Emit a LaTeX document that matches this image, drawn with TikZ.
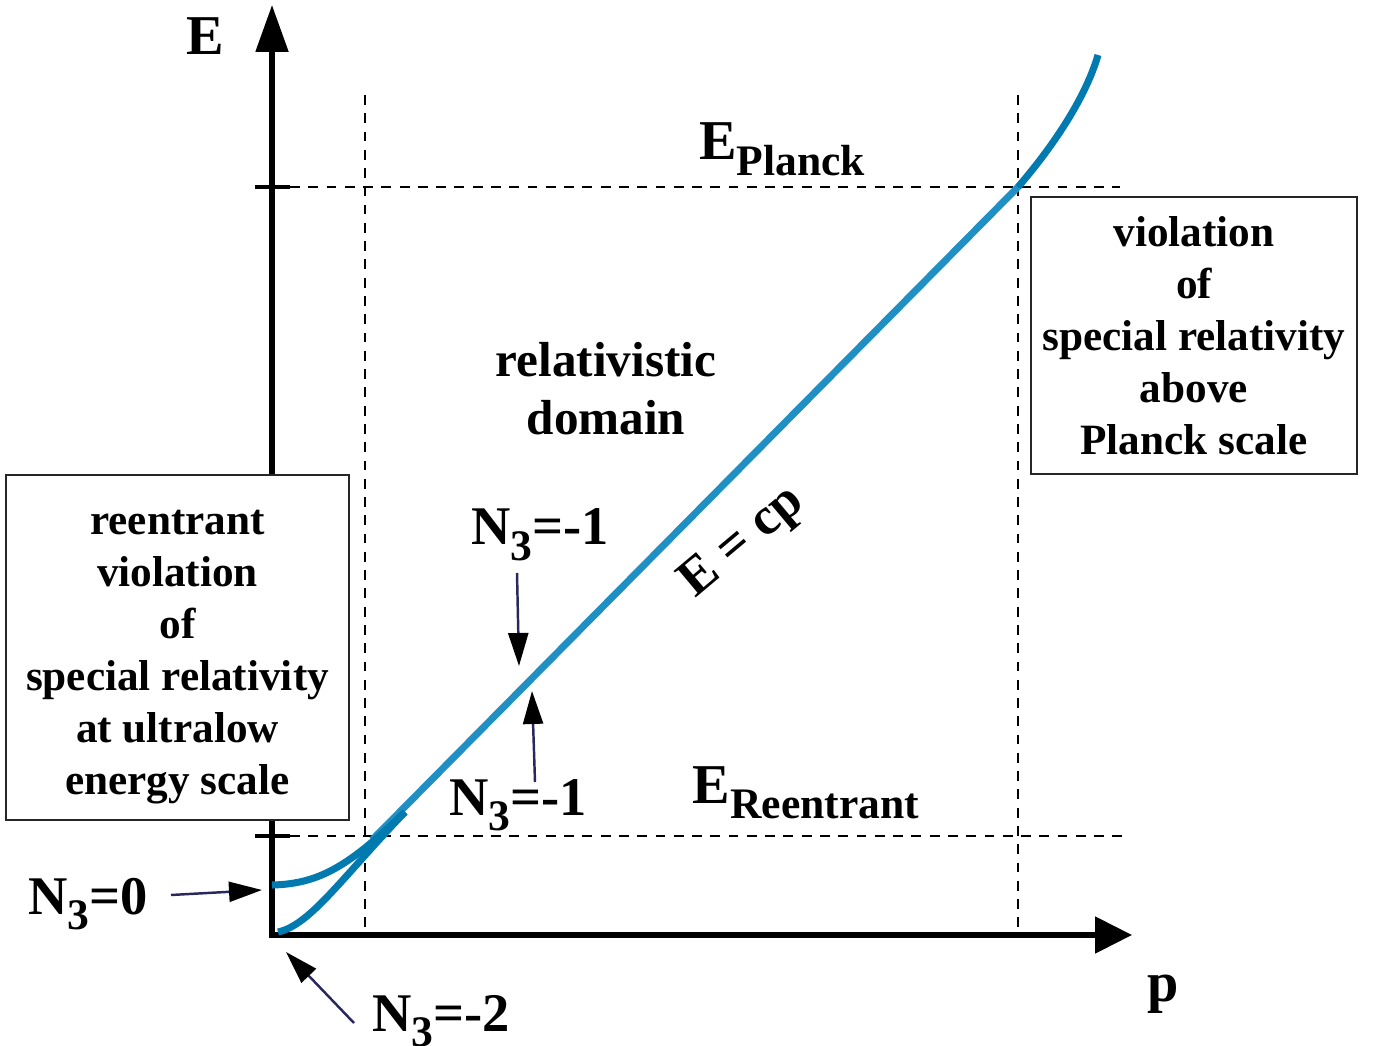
\documentclass[tikz,border=0pt]{standalone}
\usepackage{fontspec}
\setmainfont{Liberation Serif}
\usetikzlibrary{arrows.meta,positioning}
\definecolor{curveblue}{RGB}{0,122,175}
\definecolor{lineblue}{RGB}{32,144,196}
\definecolor{navy}{RGB}{40,40,92}
\newcommand{\lowsub}[1]{\raisebox{-4.3pt}{\fontsize{12.4}{14}\selectfont #1}}

\begin{document}
\begin{tikzpicture}[x=1cm,y=1cm,
      axes/.style={line width=1.5pt,
        {Triangle[length=0.47cm,width=0.32cm]}-{Triangle[length=0.37cm,width=0.36cm]}},
      guide/.style={line width=0.45pt,dash pattern=on 2.8pt off 2.4pt},
      tickmark/.style={line width=1.4pt},
      branch/.style={curveblue,line width=2pt},
      pointer/.style={navy,line width=0.7pt,-{Triangle[length=0.33cm,width=0.2cm,black]}},
      lbl/.style={font=\bfseries\fontsize{16}{19}\selectfont,inner sep=0pt},
      nlbl/.style={font=\bfseries\fontsize{15.5}{18}\selectfont,inner sep=0pt},
      box/.style={draw=black!85,fill=white,line width=0.7pt,align=center,
        font=\bfseries\fontsize{12.3}{14.8}\selectfont}]
    \useasboundingbox (0,0) rectangle (13.75,10.45);
    % axes and scales
    \coordinate (O) at (2.72,1.10);
    \coordinate (ytop) at (2.72,10.40);
    \coordinate (xend) at (11.32,1.10);
    \coordinate (planck) at (10.18,8.58);
    \coordinate (reent) at (3.72,2.05);
    \coordinate (merge) at (4.05,2.33);
    \draw[guide] (2.90,8.58) -- (11.20,8.58);
    \draw[guide] (2.90,2.09) -- (11.30,2.09);
    \draw[guide] (3.65,9.50) -- (3.65,1.10);
    \draw[guide] (10.18,9.50) -- (10.18,1.10);
    \draw[axes] (ytop) -- (O) -- (xend);
    \draw[tickmark] (2.55,8.58) -- (2.90,8.58);
    \draw[tickmark] (2.55,2.09) -- (2.90,2.09);
    % dispersion curves
    \draw[lineblue,line width=2pt] (reent) -- (planck);
    \draw[branch] (planck) .. controls (10.50,8.95) and (10.85,9.45) .. (10.98,9.90);
    \draw[branch] (2.72,1.60) .. controls (3.20,1.61) and (3.50,1.80) .. (merge);
    \draw[branch] (2.78,1.13) .. controls (3.10,1.20) and (3.40,1.65) .. (merge);
    % boxes
    \node[box,inner ysep=0pt,minimum width=3.43cm,minimum height=3.45cm] (lowbox) at (1.775,3.975)
      {\rule{0pt}{0.44cm}reentrant\\violation\\of\\special relativity\\at ultralow\\energy scale};
    \node[box,minimum width=3.22cm,minimum height=2.77cm] (highbox) at (11.94,7.095)
      {violation\\of\\special relativity\\above\\Planck scale};
    % labels
    \node[lbl,anchor=base] (Elab) at (2.05,9.90) {E};
    \node[lbl,anchor=base] (plab) at (11.63,0.44) {p};
    \node[lbl,anchor=base] (Eplanck) at (7.82,8.85) {E\lowsub{Planck}};
    \node[lbl,anchor=base] (Ereent) at (8.06,2.42) {E\lowsub{Reentrant}};
    \node[font=\bfseries\fontsize{14}{16.5}\selectfont,align=center] (reldom) at (6.06,6.56)
      {relativistic\\domain};
    \node[font=\bfseries\fontsize{15}{17}\selectfont,rotate=40] (law) at (7.43,5.02) {E = cp};
    \node[nlbl,anchor=base] (nup) at (5.40,5.00) {N\lowsub{3}=-1};
    \node[nlbl,anchor=base] (nlow) at (5.18,2.30) {N\lowsub{3}=-1};
    \node[nlbl,anchor=base] (nzero) at (0.88,1.31) {N\lowsub{3}=0};
    \node[nlbl,anchor=base] (nmtwo) at (4.41,0.14) {N\lowsub{3}=-2};
    % pointers
    \coordinate (upS) at (5.17,4.72);  \coordinate (upT) at (5.19,3.79);
    \coordinate (lowS) at (5.35,2.63); \coordinate (lowT) at (5.32,3.54);
    \coordinate (zeroS) at (1.71,1.50); \coordinate (zeroT) at (2.62,1.55);
    \coordinate (mtwoS) at (3.54,0.22); \coordinate (mtwoT) at (2.86,0.93);
    \draw[pointer] (upS) -- (upT);
    \draw[pointer] (lowS) -- (lowT);
    \draw[pointer] (zeroS) -- (zeroT);
    \draw[pointer] (mtwoS) -- (mtwoT);
  \end{tikzpicture}
\end{document}
